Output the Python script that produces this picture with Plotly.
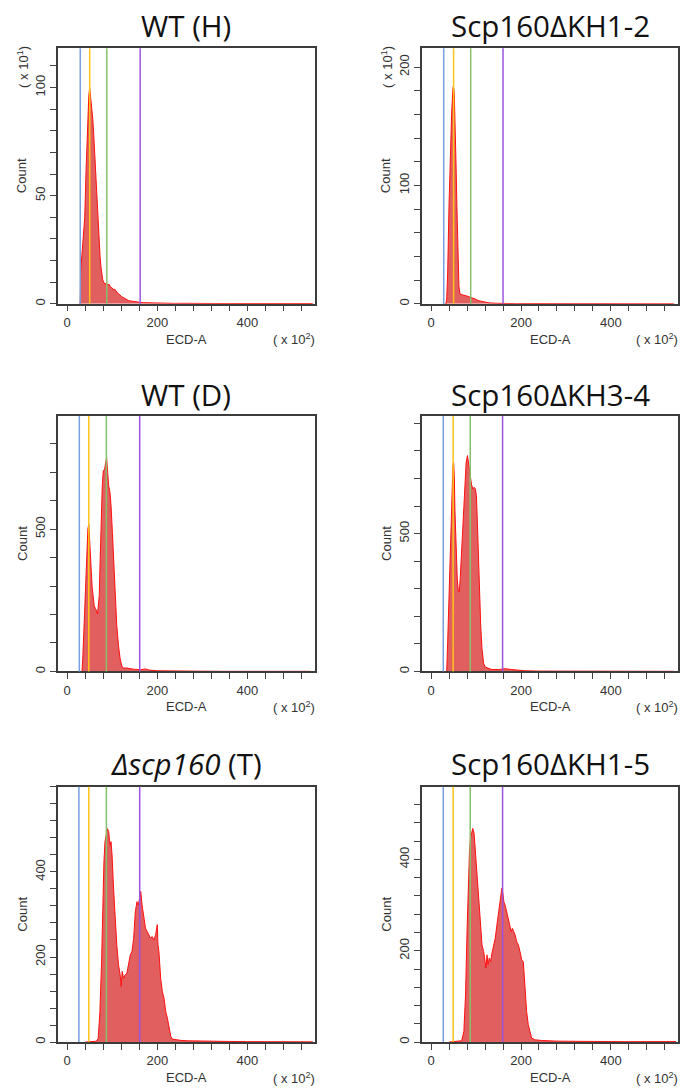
import plotly.graph_objects as go

# ---------------- data ----------------
titles = ["WT (H)", "Scp160ΔKH1-2", "WT (D)", "Scp160ΔKH3-4",
          "<i>Δscp160</i> (T)", "Scp160ΔKH1-5"]

# WT (H)  (counts x10^1)
wt_h_x = [27, 29, 30, 32, 35, 39, 42, 45, 48, 50, 51, 52, 53, 55, 57, 59, 61, 63, 65, 67, 69, 71, 73,
          75, 77, 79, 81, 84, 87, 90, 93, 96, 99, 102, 105, 108, 111, 114, 117, 120, 124, 128, 132,
          136, 140, 145, 150, 155, 160, 170, 180, 190, 200, 220, 240, 260, 280, 300, 330, 360, 400,
          440, 480, 520, 545]
wt_h_y = [0, 0, 15, 20, 27, 40, 62, 82, 96, 100, 98, 93, 91, 90, 85, 78, 70, 61, 53, 43, 32, 26, 22,
          17, 13, 11, 10, 9, 9.5, 8.6, 9, 7.8, 7.5, 6.6, 6.8, 5.7, 5.3, 4.5, 4.2, 3.4, 2.9, 2.3, 1.8,
          1.5, 1.3, 1.1, 0.9, 0.8, 0.7, 0.5, 0.4, 0.3, 0.25, 0.2, 0.15, 0.2, 0.1, 0.15, 0.1, 0.1, 0.1,
          0.05, 0.1, 0.05, 0.1]

# Scp160ΔKH1-2  (counts x10^1)
kh12_x = [30, 33, 34.6, 36.8, 39.7, 42.6, 45.6, 48.5, 49.5, 51.5, 52.9, 54.4, 55.9, 57.4, 58.8, 60.3,
          61.8, 64, 69, 76, 84, 91, 98, 106, 117, 130, 145, 160, 190, 220, 260, 300, 340, 380, 420,
          460, 500, 540]
kh12_y = [0, 0, 4, 26, 82, 125, 161, 182, 184, 178, 161, 139, 110, 82, 54, 32, 15, 8.4, 7.5, 7, 6,
          5, 4, 2.5, 1.5, 0.7, 0.4, 0.2, 0.1, 0.15, 0.1, 0.1, 0.05, 0.1, 0.05, 0.05, 0.05, 0.05]

# WT (D)
wt_d_x = [31, 33, 35, 38, 41, 44, 46, 48, 50.2, 52.4, 53.9, 55.4, 57.7, 59.9, 62.9, 65.2, 67.4, 69.7,
          71.2, 72.7, 74.9, 77.9, 80.1, 83.1, 85.4, 87.6, 89.9, 92.1, 95.1, 97.4, 100.4, 103.4, 106.4,
          110.1, 113.9, 117.6, 121.3, 125.1, 132.6, 140.1, 147.6, 155, 162.5, 173.8, 181.3, 200, 230,
          260, 300, 350, 400, 450, 500, 540]
wt_d_y = [0, 0, 60, 180, 310, 430, 500, 517, 453, 360, 301, 296, 266, 231, 220, 214, 202, 231, 266,
          360, 512, 652, 704, 710, 733, 751, 699, 652, 628, 582, 488, 383, 266, 161, 91, 44, 19, 12,
          12, 9, 8, 7, 6, 9, 5, 2.5, 1.5, 1, 1, 0.5, 1, 0.5, 0.5, 0.5]

# Scp160ΔKH3-4
kh34_x = [32, 34.6, 36.8, 39.7, 42.6, 45.6, 48.5, 50, 51.5, 52.9, 54.4, 55.9, 58.1, 60.3, 62.5, 64.7,
          66.9, 69.1, 72.1, 75, 77.9, 80.9, 83.1, 85.3, 87.5, 89.7, 92.6, 95.6, 98.5, 100.7, 102.9,
          105.1, 107.4, 110.3, 113.2, 116.9, 120.6, 128, 135.3, 150, 164.7, 179.4, 194, 208.8, 240,
          280, 320, 360, 400, 450, 500, 540]
kh34_y = [0, 0, 106, 287, 469, 614, 746, 758, 710, 589, 493, 408, 336, 295, 288, 336, 408, 493, 589,
          686, 758, 783, 752, 734, 710, 680, 662, 668, 662, 638, 541, 408, 275, 167, 82, 28, 16, 10, 7,
          7, 10, 7, 5, 2.5, 1.5, 1, 1, 0.5, 1, 0.5, 0.5, 0.5]

# Δscp160 (T)
dscp_x = [40, 55, 65, 68.9, 72.7, 76.4, 78.7, 81.6, 83.9, 86.1, 89.1, 92.1, 95.1, 97.4, 99.6, 102.6,
          106.4, 110.1, 113.9, 117.6, 119.9, 122.1, 125.1, 128.8, 132.6, 136.3, 140.1, 143.8, 147.6,
          151.3, 155, 158, 161, 163.3, 166.3, 170, 173.8, 177.5, 181.3, 185, 188.8, 192.5, 196.3, 200,
          201.5, 203.7, 207.5, 211.2, 215, 218.7, 222.5, 226.2, 230, 233.7, 241.2, 252.4, 267.4,
          282.4, 319.9, 360, 400, 440, 480, 520, 545]
dscp_y = [0, 1, 2, 9, 72, 189, 307, 424, 471, 483, 502, 495, 463, 471, 440, 369, 291, 229, 182, 158,
          131, 166, 150, 158, 162, 182, 205, 213, 244, 307, 330, 322, 346, 354, 322, 299, 268, 260,
          252, 244, 248, 240, 252, 276, 229, 213, 150, 119, 103, 72, 56, 33, 13, 7, 5.5, 4, 3, 2.5,
          1.6, 1.5, 1, 1, 0.8, 1, 0.5]

# Scp160ΔKH1-5
kh15_x = [40, 55, 68, 72.8, 76.5, 80.1, 82.4, 85.3, 87.5, 89.7, 92.6, 95.6, 98.5, 100.7, 103, 105.9,
          109.6, 113.2, 116.9, 119.1, 122.1, 124.3, 126.5, 129.4, 132.4, 135.3, 139, 142.6, 146.3,
          150, 153.7, 157.4, 159.6, 161.8, 164.7, 168.4, 172, 175.7, 177.9, 180.9, 183.8, 186.8,
          190.4, 194.1, 197.8, 201.5, 205.1, 207.4, 208.8, 212.5, 216.2, 219.9, 223.5, 230.9, 245.6,
          282.4, 320, 360, 400, 440, 480, 520, 545]
kh15_y = [0, 1, 3, 23, 103, 249, 358, 417, 446, 460, 468, 457, 417, 402, 366, 315, 256, 213, 198,
          184, 162, 191, 169, 184, 176, 195, 213, 227, 256, 286, 307, 337, 326, 307, 300, 286, 271,
          253, 242, 249, 242, 235, 220, 213, 198, 180, 176, 140, 111, 67, 38, 23, 9, 5, 3.6, 2, 1.5,
          1, 1, 0.8, 1, 0.8, 1]

# gate positions (ECD-A, x10^2): blue, orange, green, purple
gates_wt_h = [29, 50, 88, 162]
gates_kh12 = [28, 50, 88, 160]
gates_wt_d = [27, 48, 87, 161]
gates_kh34 = [27, 49, 87, 159]
gates_dscp = [26, 48, 87, 161]
gates_kh15 = [27, 49, 87, 159]

# axis extents and tick labels
y_max = [118.2, 216, 897, 927, 600, 559]
y_tick_step = [10, 20, 100, 100, 40, 40]
y_tick_labels = [[0, 50, 100], [0, 100, 200], [0, 500], [0, 500], [0, 200, 400], [0, 200, 400]]
x_range = [-21, 550]
x_tick_step = 40
x_tick_labels = [0, 200, 400]

series_x = [wt_h_x, kh12_x, wt_d_x, kh34_x, dscp_x, kh15_x]
series_y = [wt_h_y, kh12_y, wt_d_y, kh34_y, dscp_y, kh15_y]
gates = [gates_wt_h, gates_kh12, gates_wt_d, gates_kh34, gates_dscp, gates_kh15]
y_mult = ["1", "1", None, None, None, None]

# ---------------- styling / layout ----------------
W, H = 683, 1088
gate_colors = ["#779ee0", "#ffc21a", "#86c06a", "#9b55dc"]
col_px = [(57.7, 315.0), (421.7, 678.3)]
row_px = [(48.3, 304.3), (416.7, 672.7), (788.3, 1044.0)]
title_cy = [26, 395, 765]
axis_font = dict(family="Liberation Sans, Arial, sans-serif", size=13, color="#333333")
title_font = dict(family="Open Sans, sans-serif", size=29.5, color="#111111")

fig = go.Figure()
annotations = []
shapes = []

for i in range(6):
    n = i + 1
    r, c = divmod(i, 2)
    x0p, x1p = col_px[c]
    y0p, y1p = row_px[r]
    xs = "" if n == 1 else str(n)

    fig.add_trace(go.Scatter(
        x=series_x[i], y=series_y[i], mode="lines",
        line=dict(color="#ff1010", width=1),
        fill="tozeroy", fillcolor="rgba(218, 60, 60, 0.82)",
        xaxis="x" + xs, yaxis="y" + xs, hoverinfo="skip"))

    ymx = y_max[i]
    tick_style = dict(ticks="outside", ticklen=6, tickwidth=1, tickcolor="#444444")
    fig.layout["xaxis" + xs] = dict(
        domain=[x0p / W, x1p / W], range=x_range, anchor="y" + xs,
        showline=True, mirror=True, linecolor="#3c3c3c", linewidth=1.5,
        tickmode="array", tickvals=x_tick_labels, ticktext=[str(v) for v in x_tick_labels],
        minor=dict(tick0=0, dtick=x_tick_step, showgrid=False, **tick_style),
        tickfont=axis_font, showgrid=False, zeroline=False, fixedrange=True, **tick_style)
    fig.layout["yaxis" + xs] = dict(
        domain=[1 - y1p / H, 1 - y0p / H], range=[0, ymx], anchor="x" + xs,
        showline=True, mirror=True, linecolor="#3c3c3c", linewidth=1.5,
        tickmode="array", tickvals=y_tick_labels[i], ticktext=[str(v) for v in y_tick_labels[i]],
        minor=dict(tick0=0, dtick=y_tick_step[i], showgrid=False, **tick_style),
        tickangle=-90, tickfont=axis_font, showgrid=False, zeroline=False, fixedrange=True,
        **tick_style)

    for g, col in zip(gates[i], gate_colors):
        shapes.append(dict(type="line", xref="x" + xs, yref="y" + xs + " domain",
                           x0=g, x1=g, y0=0, y1=1, line=dict(color=col, width=1.5)))

    cx = (x0p + x1p) / 2
    annotations.append(dict(text=titles[i], x=cx / W, y=1 - title_cy[r] / H,
                            xref="paper", yref="paper", showarrow=False,
                            xanchor="center", yanchor="middle", font=title_font))
    annotations.append(dict(text="Count", x=(x0p - 35.5) / W, y=1 - ((y0p + y1p) / 2) / H,
                            xref="paper", yref="paper", showarrow=False, textangle=-90,
                            xanchor="center", yanchor="middle", font=axis_font))
    annotations.append(dict(text="ECD-A", x=cx / W, y=1 - (y1p + 35.5) / H,
                            xref="paper", yref="paper", showarrow=False,
                            xanchor="center", yanchor="middle", font=axis_font))
    annotations.append(dict(text="( x 10<sup>2</sup>)", x=(x1p + 2) / W, y=1 - (y1p + 35.5) / H,
                            xref="paper", yref="paper", showarrow=False,
                            xanchor="right", yanchor="middle", font=axis_font))
    if y_mult[i]:
        annotations.append(dict(text="( x 10<sup>%s</sup>)" % y_mult[i], x=(x0p - 35) / W,
                                y=1 - (y0p + 19) / H, xref="paper", yref="paper",
                                showarrow=False, textangle=-90, xanchor="center",
                                yanchor="middle", font=axis_font))

fig.update_layout(width=W, height=H, margin=dict(l=0, r=0, t=0, b=0),
                  paper_bgcolor="white", plot_bgcolor="white", showlegend=False,
                  annotations=annotations, shapes=shapes)

fig.write_html("out.html", config={"displayModeBar": False},
               post_script="document.body.style.margin='0';document.body.style.padding='0';")
